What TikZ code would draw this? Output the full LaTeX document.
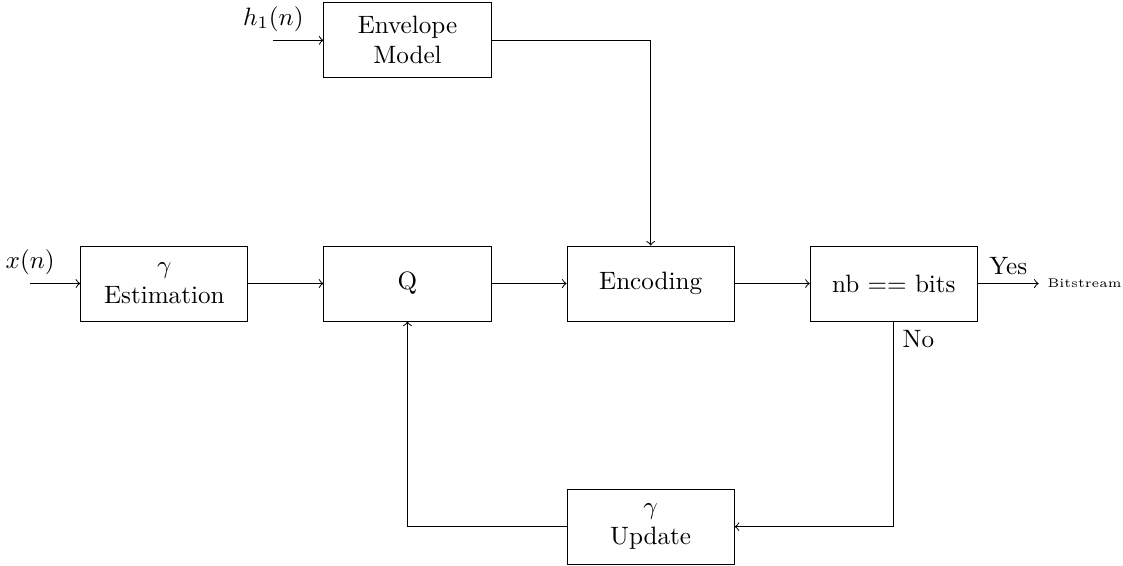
\documentclass[tikz,border=0pt]{standalone}
\usepackage{amssymb,latexsym}
\usetikzlibrary{matrix,arrows,positioning}

\begin{document}
\begin{tikzpicture}
  \useasboundingbox (0,0) rectangle (15.72,7.91);
  \matrix (m) [row sep=2.34cm, column sep=1.05cm,
    nodes={draw, align=center, minimum width=2.34cm, minimum height=1.05cm}]
    at (7.406,3.941)
  {
     & \node (env) {Envelope\\Model}; & & \\
    \node (est) {$\gamma$\\Estimation}; & \node (q) {Q}; & \node (enc) {Encoding}; & \node (chk) {nb == bits}; \\
     & & \node (upd) {$\gamma$\\Update}; & \\ };
  \coordinate[left=0.7cm of est, label={[name=xlab]above:$x(n)$}] (xin);
  \coordinate[left=0.7cm of env, label={[name=hlab]above:$h_1(n)$}] (hin);
  \node[right=0.85cm of chk] (out) {\tiny Bitstream};
%  \path[-stealth]
  \path[->]
  (xin) edge (est)
  (hin) edge (env)
  (est) edge (q)
  (q) edge (enc)
  (enc) edge (chk)
  (chk) edge node [above] (yes) {Yes} (out);
  \draw[->] (env) -| (enc);
  \draw[->] (chk.south) node [below right] (no) {No} |- (upd);
  \draw[->] (upd) -| (q);
\end{tikzpicture}
\end{document}
